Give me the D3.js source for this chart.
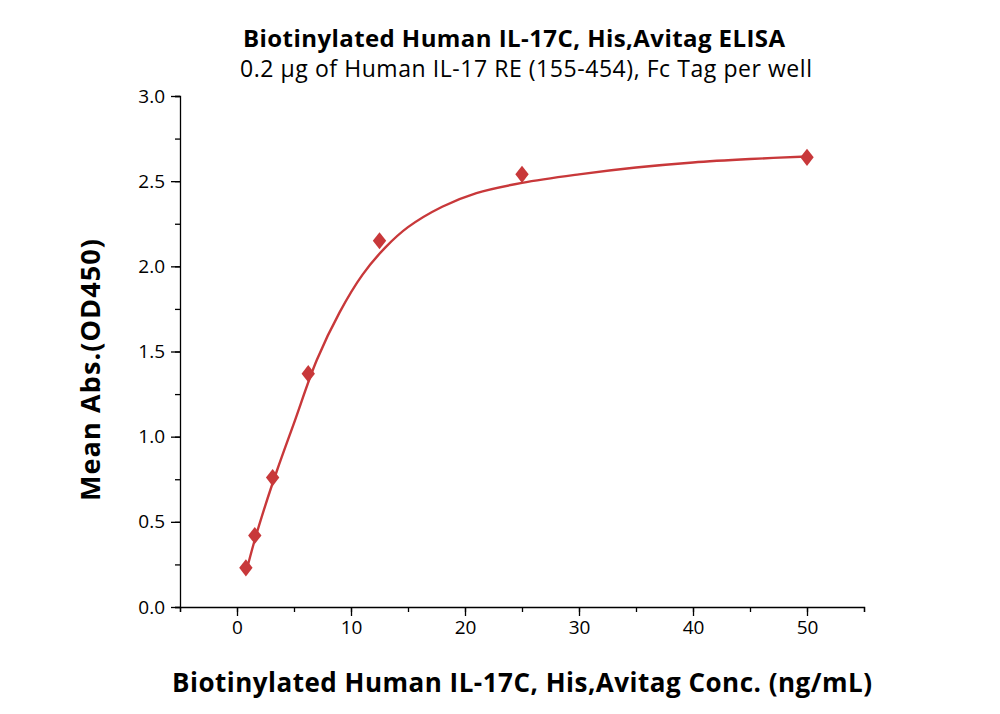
<!DOCTYPE html>
<html><head><meta charset="utf-8">
<script src="https://cdn.jsdelivr.net/npm/d3@7"></script>
<style>body{margin:0;background:#fff}text{font-family:"Open Sans","Noto Sans",sans-serif}</style>
</head><body>
<svg id="c" width="1000" height="714"></svg>
<script>
// measured points
var conc = [0.78, 1.56, 3.125, 6.25, 12.5, 25, 50];
var od = [0.23, 0.42, 0.76, 1.37, 2.15, 2.54, 2.64];
// fitted curve
var fitX = [0.78, 1.5, 2.5, 3.5, 5, 7, 9, 11, 13, 15, 18, 21, 25, 30, 35, 40, 45, 50];
var fitY = [0.20, 0.38, 0.60, 0.80, 1.08, 1.45, 1.73, 1.95, 2.11, 2.23, 2.35, 2.43, 2.49, 2.54, 2.58, 2.61, 2.63, 2.645];
var xTicks = [0, 10, 20, 30, 40, 50];
var yTicks = [0, 0.5, 1, 1.5, 2, 2.5, 3];

var svg = d3.select("#c");
var x = d3.scaleLinear().domain([-5, 55]).range([180, 864]);
var y = d3.scaleLinear().domain([0, 3]).range([607, 96]);
var red = "#c8383a";

svg.append("g").attr("transform", "translate(0,607)")
  .call(d3.axisBottom(x).tickValues(d3.range(-5, 56, 5)).tickSize(5).tickFormat(""));
svg.append("g").attr("transform", "translate(0,607)")
  .call(d3.axisBottom(x).tickValues(xTicks).tickSize(9).tickPadding(5))
  .call(g => g.select(".domain").remove());
svg.append("g").attr("transform", "translate(180,0)")
  .call(d3.axisLeft(y).tickValues(d3.range(0, 3.01, 0.25)).tickSize(5).tickFormat(""));
svg.append("g").attr("transform", "translate(180,0)")
  .call(d3.axisLeft(y).tickValues(yTicks).tickSize(9).tickPadding(6).tickFormat(d3.format(".1f")))
  .call(g => g.select(".domain").remove());
svg.selectAll(".tick text").attr("font-size", 19).attr("fill", "#000");
svg.selectAll(".domain,.tick line").attr("stroke", "#000").attr("stroke-width", 1.3);

var line = d3.line().x((d, i) => x(d)).y((d, i) => y(fitY[i])).curve(d3.curveCatmullRom);
svg.append("path").attr("d", line(fitX)).attr("fill", "none").attr("stroke", red).attr("stroke-width", 2.4);

svg.selectAll(".pt").data(conc).enter().append("path")
  .attr("transform", (d, i) => "translate(" + x(d) + "," + y(od[i]) + ") scale(1.35,1)")
  .attr("d", d3.symbol(d3.symbolDiamond, 85)).attr("fill", red);

svg.append("text").attr("x", 514).attr("y", 47).attr("text-anchor", "middle")
  .attr("font-size", 24).attr("font-weight", "bold").attr("textLength", 542)
  .text("Biotinylated Human IL-17C, His,Avitag ELISA");
svg.append("text").attr("x", 526).attr("y", 77).attr("text-anchor", "middle")
  .attr("font-size", 23).attr("textLength", 572)
  .text("0.2 µg of Human IL-17 RE (155-454), Fc Tag per well");
svg.append("text").attr("x", 522).attr("y", 692).attr("text-anchor", "middle")
  .attr("font-size", 26).attr("font-weight", "bold").attr("textLength", 700)
  .text("Biotinylated Human IL-17C, His,Avitag Conc. (ng/mL)");
svg.append("text").attr("transform", "translate(100,370) rotate(-90)").attr("text-anchor", "middle")
  .attr("font-size", 27).attr("font-weight", "bold").attr("textLength", 262)
  .text("Mean Abs.(OD450)");
</script>
</body></html>
